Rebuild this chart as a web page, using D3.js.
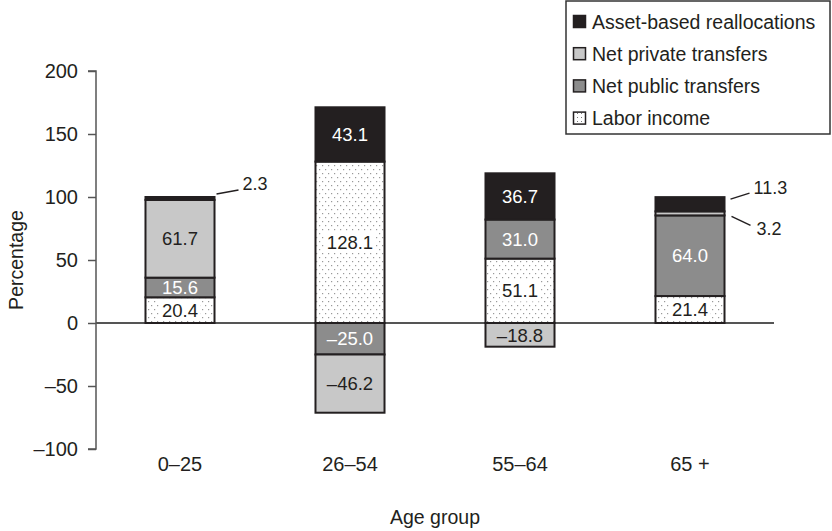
<!DOCTYPE html>
<html><head><meta charset="utf-8">
<script src="https://cdn.jsdelivr.net/npm/d3@7/dist/d3.min.js"></script>
<style>body{margin:0;background:#fff}svg{display:block}text{font-family:"Liberation Sans",Arial,Helvetica,sans-serif}</style>
</head><body><svg id="c" width="832" height="531"></svg>
<script>
const categories = ["0–25", "26–54", "55–64", "65 +"];
const seriesNames = ["Labor income", "Net public transfers", "Net private transfers", "Asset-based reallocations"];
const laborIncome = [20.4, 128.1, 51.1, 21.4];
const netPublic = [15.6, -25.0, 31.0, 64.0];
const netPrivate = [61.7, -46.2, -18.8, 3.2];
const assetBased = [2.3, 43.1, 36.7, 11.3];
const yTicks = [-100, -50, 0, 50, 100, 150, 200];
const legendOrder = ["Asset-based reallocations", "Net private transfers", "Net public transfers", "Labor income"];

(function () {
const seriesValues = [laborIncome, netPublic, netPrivate, assetBased];
const fills = {"Labor income": "url(#dots)", "Net public transfers": "#8c8c8c", "Net private transfers": "#c8c8c8", "Asset-based reallocations": "#231f20"};
const legendFills = {"Labor income": "url(#dotsL)", "Net public transfers": "#8c8c8c", "Net private transfers": "#c8c8c8", "Asset-based reallocations": "#231f20"};
const textColors = {"Labor income": "#231f20", "Net public transfers": "#fff", "Net private transfers": "#231f20", "Asset-based reallocations": "#fff"};

const svg = d3.select("#c");
const defs = svg.append("defs");
const pat = defs.append("pattern").attr("id", "dots").attr("patternUnits", "userSpaceOnUse").attr("width", 6).attr("height", 8);
pat.append("rect").attr("width", 6).attr("height", 8).attr("fill", "#fff");
pat.append("rect").attr("x", 1).attr("y", 1).attr("width", 1.2).attr("height", 1.2).attr("fill", "#999");
pat.append("rect").attr("x", 4).attr("y", 5).attr("width", 1.2).attr("height", 1.2).attr("fill", "#999");
const patL = defs.append("pattern").attr("id", "dotsL").attr("patternUnits", "userSpaceOnUse").attr("width", 4).attr("height", 4);
patL.append("rect").attr("width", 4).attr("height", 4).attr("fill", "#fff");
patL.append("rect").attr("x", 1).attr("y", 1).attr("width", 1).attr("height", 1).attr("fill", "#777");

const L = 96, R = 774, T = 71, B = 449;
const y = d3.scaleLinear().domain([-100, 200]).range([B, T]);
const x = d3.scaleBand().domain(categories).range([95, 775]).paddingInner(0.594).paddingOuter(0.297);

// y axis
const yAxis = d3.axisLeft(y).tickValues(yTicks).tickSize(8).tickPadding(10)
  .tickFormat(d => d < 0 ? "–" + Math.abs(d) : String(d));
const ga = svg.append("g").attr("transform", `translate(${L},0)`).call(yAxis);
ga.select(".domain").attr("stroke", "#555").attr("stroke-width", 1.5).attr("d", `M-8,${T}H0V${B}H-8`);
ga.selectAll(".tick line").attr("stroke", "#555").attr("stroke-width", 1.5);
ga.selectAll(".tick text").attr("font-size", 20).attr("fill", "#231f20").style("font-family", '"Liberation Sans",Arial,sans-serif');

// zero line
svg.append("line").attr("x1", L).attr("x2", R).attr("y1", y(0)).attr("y2", y(0)).attr("stroke", "#555").attr("stroke-width", 2);

// build segments
const segs = [];
categories.forEach((c, i) => {
  let pos = 0, neg = 0;
  seriesNames.forEach((s, k) => {
    const v = seriesValues[k][i];
    let y0, y1;
    if (v >= 0) { y0 = pos; y1 = pos + v; pos = y1; } else { y0 = neg; y1 = neg + v; neg = y1; }
    segs.push({cat: c, i, series: s, v, y0, y1});
  });
});

const bw = x.bandwidth();
const gb = svg.append("g");
gb.selectAll("rect.seg").data(segs).join("rect").attr("class", "seg")
  .attr("x", d => x(d.cat)).attr("width", bw)
  .attr("y", d => y(Math.max(d.y0, d.y1))).attr("height", d => Math.abs(y(d.y0) - y(d.y1)))
  .attr("fill", d => fills[d.series]).attr("stroke", "#231f20").attr("stroke-width", 2);

// labels
const fmt = v => (v < 0 ? "–" : "") + Math.abs(v).toFixed(1);
const outside = {"0–25|Asset-based reallocations": {dx1: 2, dy1: -3, dx2: 24, dy2: -7, tx: 28, ty: -13},
                 "65 +|Asset-based reallocations": {dx1: 6, dy1: 2, dx2: 25, dy2: -4, tx: 29, ty: -9},
                 "65 +|Net private transfers": {dx1: 7, dy1: 3, dx2: 26, dy2: 12, tx: 32, ty: 15}};
const gl = svg.append("g");
segs.forEach(d => {
  const key = d.cat + "|" + d.series;
  const cx = x(d.cat) + bw / 2;
  const cy = y((d.y0 + d.y1) / 2);
  if (outside[key]) {
    const o = outside[key];
    const xr = x(d.cat) + bw;
    const yy = d.series === "Asset-based reallocations" ? y(d.y1) : y((d.y0 + d.y1) / 2);
    gl.append("line").attr("x1", xr + o.dx1).attr("y1", yy + o.dy1).attr("x2", xr + o.dx2).attr("y2", yy + o.dy2)
      .attr("stroke", "#231f20").attr("stroke-width", 1.5);
    gl.append("text").attr("x", xr + o.tx).attr("y", yy + o.ty).attr("dy", "0.35em")
      .attr("font-size", 18).attr("fill", "#231f20").text(fmt(d.v));
    return;
  }
  if (d.series === "Labor income") {
    const t0 = gl.append("text").attr("x", cx).attr("y", cy).attr("dy", "0.36em").attr("text-anchor", "middle")
      .attr("font-size", 18.5).text(fmt(d.v));
    const bb = t0.node().getBBox();
    t0.remove();
    const segTop = y(Math.max(d.y0, d.y1)) + 1, segBot = y(Math.min(d.y0, d.y1)) - 1;
    const ry0 = Math.max(segTop, bb.y), ry1 = Math.min(segBot, bb.y + bb.height);
    gl.append("rect").attr("x", bb.x - 2).attr("width", bb.width + 4)
      .attr("y", ry0).attr("height", ry1 - ry0).attr("fill", "#fff");
  }
  gl.append("text").attr("x", cx).attr("y", cy).attr("dy", "0.36em").attr("text-anchor", "middle")
    .attr("font-size", 18.5).attr("fill", textColors[d.series]).text(fmt(d.v));
});

// x labels
categories.forEach(c => {
  svg.append("text").attr("x", x(c) + bw / 2).attr("y", 464).attr("dy", "0.35em").attr("text-anchor", "middle")
    .attr("font-size", 20).attr("fill", "#231f20").text(c);
});
svg.append("text").attr("x", (L + R) / 2).attr("y", 517).attr("dy", "0.35em").attr("text-anchor", "middle")
  .attr("font-size", 19.5).attr("fill", "#231f20").text("Age group");
svg.append("text").attr("transform", `translate(16,${(T + B) / 2}) rotate(-90)`).attr("dy", "0.35em").attr("text-anchor", "middle")
  .attr("font-size", 19.5).attr("fill", "#231f20").text("Percentage");

// legend
const lg = svg.append("g");
lg.append("rect").attr("x", 566).attr("y", 1).attr("width", 264).attr("height", 133).attr("fill", "#fff").attr("stroke", "#333").attr("stroke-width", 1.5);
legendOrder.forEach((s, k) => {
  const yy = 21.5 + k * 32.2;
  lg.append("rect").attr("x", 573.5).attr("y", yy - 6).attr("width", 12).attr("height", 12).attr("fill", legendFills[s]).attr("stroke", "#231f20").attr("stroke-width", 1.5);
  lg.append("text").attr("x", 592).attr("y", yy).attr("dy", "0.36em").attr("font-size", 19.5).attr("fill", "#231f20").text(s);
});
})();
</script></body></html>
